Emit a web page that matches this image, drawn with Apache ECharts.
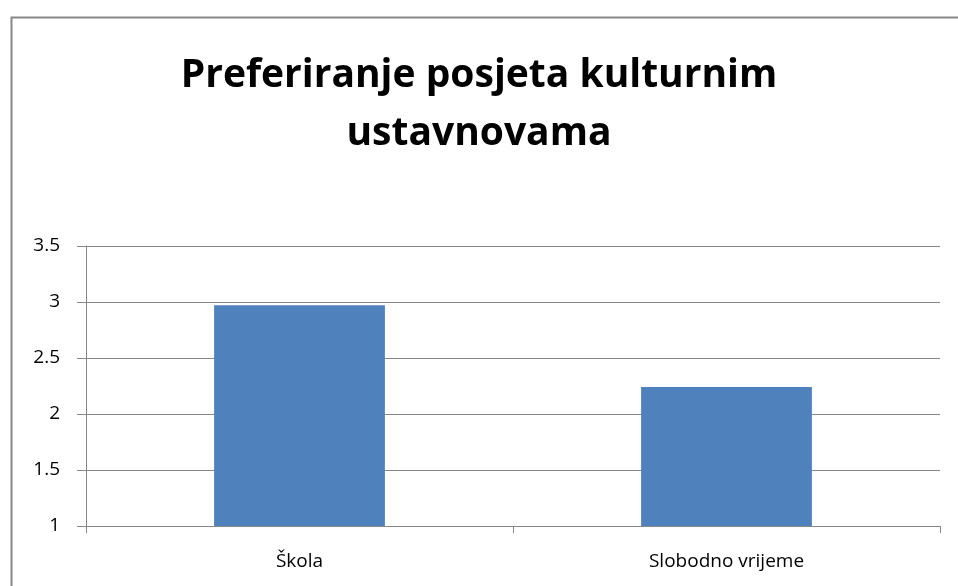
<!DOCTYPE html>
<html>
<head>
<meta charset="utf-8">
<script src="https://cdn.jsdelivr.net/npm/echarts@6/dist/echarts.min.js"></script>
<style>html,body{margin:0;padding:0;background:#fff}#c{width:958px;height:586px}</style>
</head>
<body>
<div id="c"></div>
<script>
const titleText = 'Preferiranje posjeta kulturnim\nustavnovama';
const categories = ['Škola', 'Slobodno vrijeme'];
const values = [2.97, 2.24];
const yTicks = { min: 1, max: 3.5, interval: 0.5 };

const chart = echarts.init(document.getElementById('c'));
const gridColor = '#878787';
chart.setOption({
  animation: false,
  backgroundColor: '#fff',
  graphic: [{
    type: 'rect', left: 9, top: 15,
    shape: { width: 1000, height: 700 },
    style: { fill: 'none', stroke: gridColor, lineWidth: 2 }
  }],
  title: {
    text: titleText, left: 'center', top: 42,
    textStyle: { fontFamily: 'Open Sans', fontWeight: 'bold', fontSize: 39, color: '#000', lineHeight: 58 }
  },
  grid: { left: 86, right: 18, top: 246, bottom: 60 },
  xAxis: {
    type: 'category', data: categories,
    axisLine: { lineStyle: { color: gridColor, width: 1 } },
    axisTick: { show: true, length: 7, lineStyle: { color: gridColor } },
    axisLabel: { color: '#000', fontFamily: 'Open Sans', fontSize: 19, margin: 26 }
  },
  yAxis: {
    type: 'value', min: yTicks.min, max: yTicks.max, interval: yTicks.interval,
    axisLine: { show: true, lineStyle: { color: gridColor } },
    axisTick: { show: true, length: 9, lineStyle: { color: gridColor } },
    splitLine: { lineStyle: { color: gridColor, width: 1 } },
    axisLabel: { color: '#000', fontFamily: 'Open Sans', fontSize: 19, margin: 26 }
  },
  series: [{
    type: 'bar', data: values, barCategoryGap: '60%',
    itemStyle: { color: '#4F81BD' }
  }]
});
</script>
</body>
</html>
